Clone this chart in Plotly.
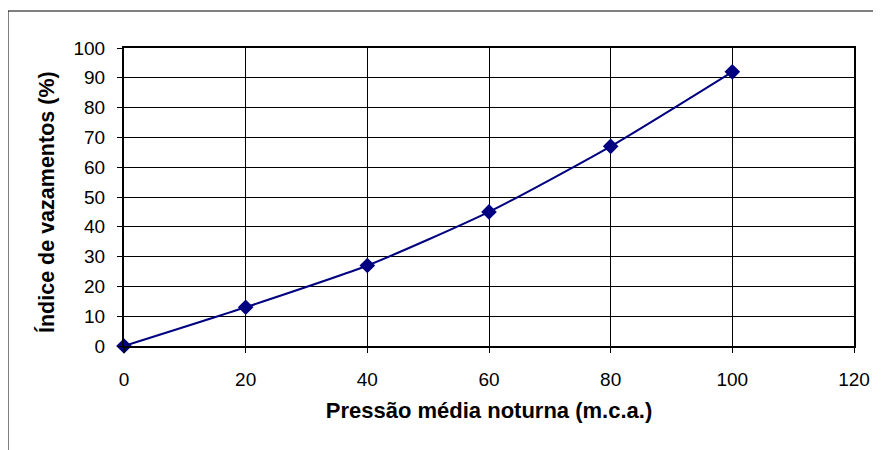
import plotly.graph_objects as go

pressao = [0, 20, 40, 60, 80, 100]
indice = [0, 13, 27, 45, 67, 92]
x_ticks = [0, 20, 40, 60, 80, 100, 120]
y_ticks = [0, 10, 20, 30, 40, 50, 60, 70, 80, 90, 100]

# page has 8px body margin, so figure is drawn at (8,8)
OFF = 8
W, H = 881 - OFF, 450 - OFF
L, R, T, B = 124 - OFF, 27, 48 - OFF, 104
pw, ph = W - L - R, H - T - B

fig = go.Figure()
fig.add_trace(go.Scatter(
    x=pressao, y=indice, mode="lines+markers",
    line=dict(color="#000080", width=2, shape="spline", smoothing=0.6),
    marker=dict(symbol="diamond", size=12, color="#000080"),
    cliponaxis=False, showlegend=False))

font = "Liberation Sans, Arial, sans-serif"
fig.update_layout(
    width=W, height=H, margin=dict(l=L, r=R, t=T, b=B),
    paper_bgcolor="white", plot_bgcolor="white",
    font=dict(family=font, color="black", size=19),
    xaxis=dict(range=[0, 120], tickvals=x_ticks, showgrid=True, gridcolor="black", gridwidth=1,
               ticks="outside", ticklen=5, tickcolor="black", showline=True, linecolor="black",
               linewidth=2, mirror=True, zeroline=False, tickfont=dict(size=19),
               ticklabelstandoff=10,
               title=dict(text="<b>Pressão média noturna (m.c.a.)</b>", font=dict(size=22), standoff=14)),
    yaxis=dict(range=[0, 100], tickvals=y_ticks, showgrid=True, gridcolor="black", gridwidth=1,
               ticks="outside", ticklen=5, tickcolor="black", showline=True, linecolor="black",
               linewidth=2, mirror=True, zeroline=False, tickfont=dict(size=19),
               ticklabelstandoff=8),
    annotations=[dict(text="<b>Índice de vazamentos (%)</b>", textangle=-90,
                      xref="paper", yref="paper",
                      x=(46 - OFF - L) / pw, y=1 - (202 - OFF - T) / ph,
                      xanchor="center", yanchor="middle", showarrow=False,
                      font=dict(size=21.5))],
    shapes=[dict(type="rect", xref="paper", yref="paper",
                 x0=(8 - OFF - L) / pw, x1=(W + 20 - L) / pw,
                 y0=-(H + 20 - T - ph) / ph, y1=1 + (T - (11 - OFF)) / ph,
                 line=dict(color="black", width=1))],
)
fig.write_html("out.html")
